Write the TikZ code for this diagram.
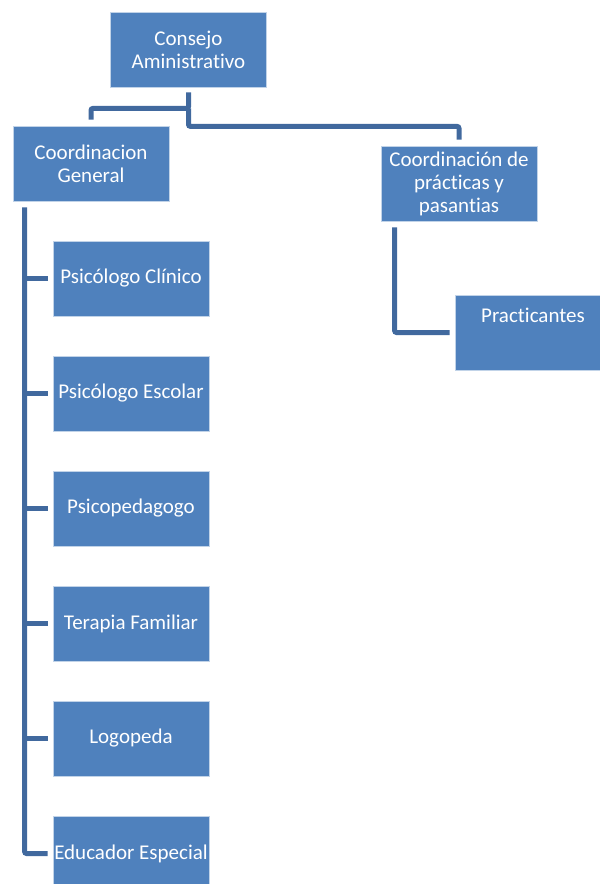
\documentclass[tikz,border=0pt]{standalone}
\usepackage{fontspec}
\setmainfont[Ligatures=NoCommon]{Carlito}
\usepackage{tikz}
\definecolor{boxblue}{HTML}{4F81BD}
\definecolor{lineblue}{HTML}{41699E}

\begin{document}
\begin{tikzpicture}[x=1pt, y=-1pt,
    cargo/.style={draw=white!65!boxblue, line width=0.8pt, fill=boxblue, text=white, minimum width=156pt, minimum height=75pt, inner sep=0pt, align=center, font=\fontsize{21}{23}\selectfont},
    link/.style={draw=lineblue, line width=5pt, rounded corners=2pt}]
    \useasboundingbox (0,0) rectangle (600,884);
        \node(cons)[cargo] at(188.5, 49.5) {Consejo\\Aministrativo};
    \node(gen)[cargo] at(91, 163.5) {Coordinacion\\General};
    \node(coord)[cargo] at(459, 183.5) {Coordinación de\\prácticas y\\pasantias};
    \node(pract)[cargo, text height=27pt, text depth=48pt, minimum height=0pt] at(533, 332.5) {Practicantes};
    \node(cli)[cargo] at(131, 278.5) {Psicólogo Clínico};
    \node(esc)[cargo] at(131, 393.5) {Psicólogo Escolar};
    \node(ped)[cargo] at(131, 508.5) {Psicopedagogo};
    \node(fam)[cargo] at(131, 623.5) {Terapia Familiar};
    \node(logo)[cargo] at(131, 738.5) {Logopeda};
    \node(edu)[cargo] at(131, 853.5) {Educador Especial};
    \coordinate(spine) at ([xshift=12pt]gen.south west);
    \draw[link] ([yshift=-5pt]cons.south) -- ([yshift=-21pt]cons.south) -| ([yshift=6pt]gen.north);
    \draw[link] ([yshift=-21pt]cons.south) -- ([yshift=-39pt]cons.south) -| ([yshift=6pt]coord.north);
    \draw[link] ([yshift=-6pt]spine) |- ([xshift=-5pt]edu.west);
    \draw[link] (cli.west -| spine) -- ([xshift=-5pt]cli.west);
    \draw[link] (esc.west -| spine) -- ([xshift=-5pt]esc.west);
    \draw[link] (ped.west -| spine) -- ([xshift=-5pt]ped.west);
    \draw[link] (fam.west -| spine) -- ([xshift=-5pt]fam.west);
    \draw[link] (logo.west -| spine) -- ([xshift=-5pt]logo.west);
    \draw[link] ([xshift=14pt, yshift=-6pt]coord.south west) |- ([xshift=-5pt]pract.west);
    \end{tikzpicture}
\end{document}
